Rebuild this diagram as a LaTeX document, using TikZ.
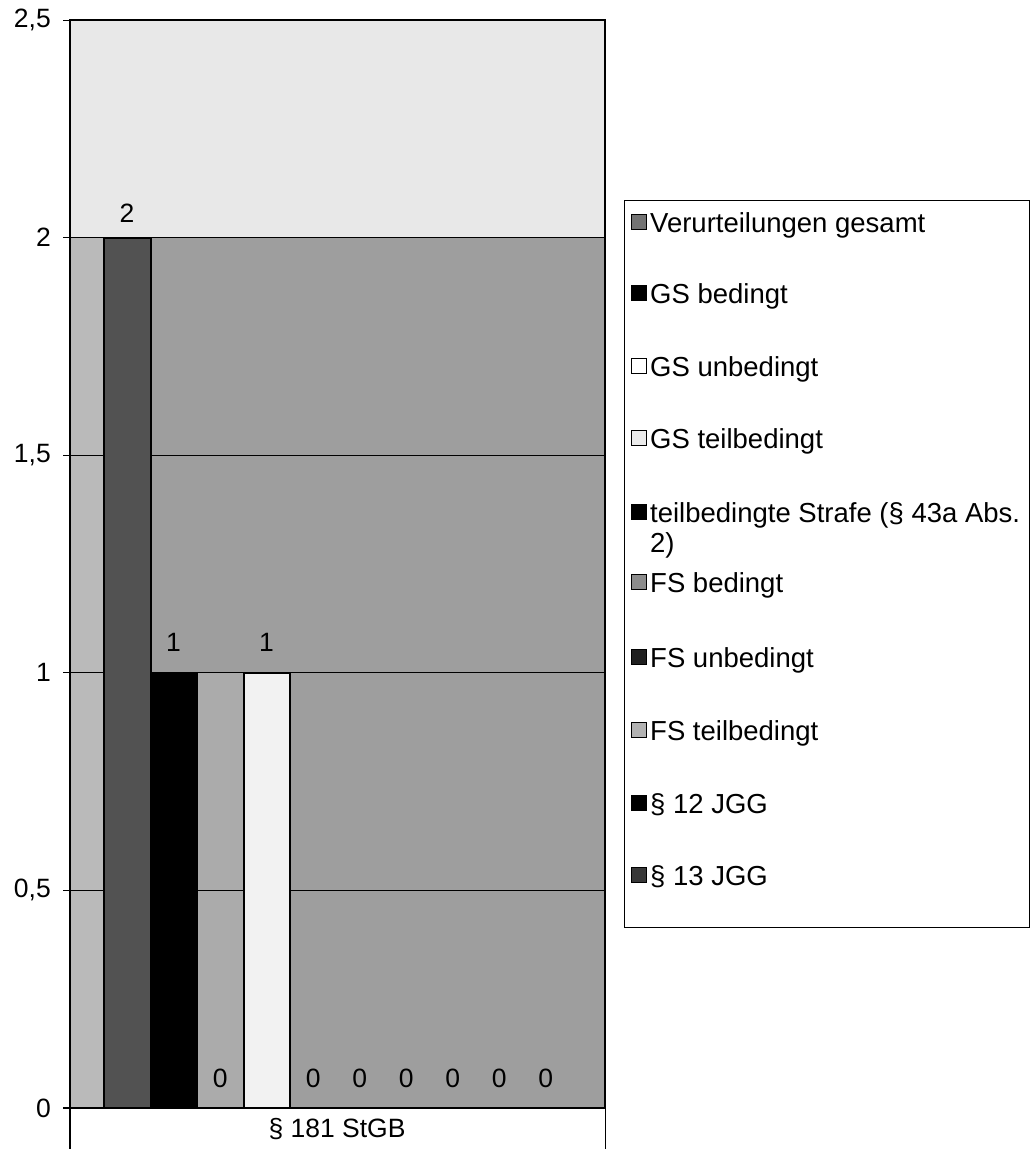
\documentclass[tikz,border=0pt]{standalone}
\usepackage{fontspec}
\setmainfont{Liberation Sans}
\begin{document}
\begin{tikzpicture}[x=1pt,y=-1pt,
  axlab/.style={font=\fontsize{26.5}{30}\selectfont, inner sep=0pt},
  leglab/.style={font=\fontsize{27.5}{31}\selectfont, inner sep=0pt, anchor=base west},
  legsq/.style={draw=black, line width=1.2pt, minimum size=15pt, inner sep=0pt},
  barbox/.style={draw=black, line width=2pt},
  gridline/.style={line width=1pt, black}]
\useasboundingbox (0,0) rectangle (1035,1149);
% plot area background
\fill[black!9] (70,20) rectangle (605,237.6);
\fill[black!38] (70,237.6) rectangle (605,1108);
\fill[black!27] (70,237.6) rectangle (104,1108);
\fill[black!33] (197,672.8) rectangle (243.5,1108);
% grid lines, ticks and axis labels
\foreach \v in {0.5, 1, 1.5, 2} {
  \draw[gridline] (63,{1108-435.2*\v}) -- (605,{1108-435.2*\v});
}
\foreach \v/\lab/\nm in {0/0/z, 0.5/{0,5}/a, 1/1/b, 1.5/{1,5}/c, 2/2/d, 2.5/{2,5}/e} {
  \node[axlab, anchor=east] (ylab\nm) at (51,{1108-435.2*\v}) {\lab};
  \draw[line width=1pt] (63,{1108-435.2*\v}) -- (70,{1108-435.2*\v});
}
% bars
\draw[barbox, fill=black!68] (104,237.6) rectangle (150.5,1108);
\draw[barbox, fill=black] (150.5,672.8) rectangle (197,1108);
\draw[barbox, fill=white!95!black] (243.5,672.8) rectangle (290,1108);
% frame
\draw[line width=2.2pt] (70,1149) -- (70,20) -- (605,20) -- (605,1108);
\draw[line width=1pt] (605,1108) -- (605,1149);
\draw[line width=2pt] (63,1108) -- (605,1108);
% value labels
\node[axlab] (v1) at (127,213) {2};
\node[axlab] (v2) at (173.5,642) {1};
\node[axlab] (v4) at (266.5,642) {1};
\foreach \x/\nm in {220.25/3, 313.25/5, 359.75/6, 406.25/7, 452.75/8, 499.25/9, 545.75/10} {
  \node[axlab] (v\nm) at (\x,1078) {0};
}
% category label
\node[axlab] (cat) at (337,1129) {§ 181 StGB};
% legend
\draw[line width=1pt] (624,200) rectangle (1029,927);
\foreach \y/\col/\txt/\nm in {
  222/black!55/{Verurteilungen gesamt}/l1,
  293/black/{GS bedingt}/l2,
  366/white/{GS unbedingt}/l3,
  438/black!8/{GS teilbedingt}/l4,
  512/black/{teilbedingte Strafe (§ 43a Abs.}/l5,
  582/black!45/{FS bedingt}/l6,
  657/black!88/{FS unbedingt}/l7,
  730/black!30/{FS teilbedingt}/l8,
  803/black/{§ 12 JGG}/l9,
  875/black!78/{§ 13 JGG}/l10} {
  \node[legsq, fill=\col] (\nm sq) at (639,\y) {};
  \node[leglab] (\nm) at (650,\y+10) {\txt};
}
\node[leglab] (l5b) at (650,552) {2)};
\end{tikzpicture}
\end{document}
